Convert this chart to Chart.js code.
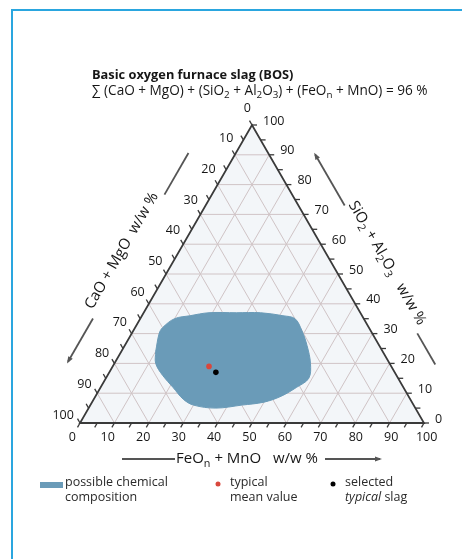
<!DOCTYPE html>
<html>
<head>
<meta charset="utf-8">
<script src="https://cdn.jsdelivr.net/npm/chart.js@4.4.1/dist/chart.umd.min.js"></script>
<style>
  html, body { margin: 0; padding: 0; background: #fff; }
  canvas { display: block; }
</style>
</head>
<body>
<canvas id="c" width="462" height="559"></canvas>
<script>
// Ternary diagram of BOS slag, all values in w/w %
// components: CaO + MgO (left corner), SiO2 + Al2O3 (top corner), FeOn + MnO (right corner)
const tickValues = [0, 10, 20, 30, 40, 50, 60, 70, 80, 90, 100];

// outline of the possible chemical composition range
const rangeCaO  = [66, 62, 60, 55, 50, 44, 36, 29, 23, 20, 20, 21, 23, 26, 31, 37, 43, 50, 58, 64, 66, 67, 68, 68];
const rangeSiO2 = [24, 30, 32, 35, 36, 37, 37, 37, 36, 35, 31, 26, 20, 15, 12,  9,  7,  6,  5,  6,  8, 12, 16, 20];
const rangeFeO  = [10,  8,  8, 10, 14, 19, 27, 34, 41, 45, 49, 53, 57, 59, 57, 54, 50, 44, 37, 30, 26, 21, 16, 12];

// typical mean value and the selected typical slag
const meanCaO = [53], meanSiO2 = [19], meanFeO = [28];
const selCaO  = [52], selSiO2  = [17], selFeO  = [31];

const H = Math.sqrt(3) / 2 * 100;
const FONT = '"Open Sans", "Noto Sans", sans-serif';
const TEXT = '#161616';
const BLOB = '#6a9bb8';
const RED = '#d9473c';

// barycentric -> cartesian (x: 0..100, y: 0..H)
function tern(c, s, f) {
  const t = c + s + f;
  s /= t; f /= t;
  return { x: (f + s / 2) * 100, y: s * H };
}
function series(cs, ss, fs) {
  return cs.map((c, i) => tern(c, ss[i], fs[i]));
}
const rangePts = series(rangeCaO, rangeSiO2, rangeFeO);
rangePts.push(rangePts[0]);

function pix(chart, c, s, f) {
  const p = tern(c, s, f);
  return { x: chart.scales.x.getPixelForValue(p.x), y: chart.scales.y.getPixelForValue(p.y) };
}

// text with subscript / italic runs
function fontFor(kind, size, weight) {
  const sz = kind === 'sub' ? size * 0.72 : size;
  const st = kind === 'it' ? 'italic ' : '';
  return st + (weight || 'normal') + ' ' + sz + 'px ' + FONT;
}
function richWidth(ctx, parts, size, weight) {
  let w = 0;
  for (const [t, k] of parts) {
    ctx.font = fontFor(k, size, weight);
    w += ctx.measureText(t).width;
  }
  return w;
}
function drawRich(ctx, parts, x, y, size, align, weight) {
  const w = richWidth(ctx, parts, size, weight);
  let cx = align === 'center' ? x - w / 2 : (align === 'right' ? x - w : x);
  ctx.textAlign = 'left';
  ctx.textBaseline = 'middle';
  for (const [t, k] of parts) {
    ctx.font = fontFor(k, size, weight);
    ctx.fillText(t, cx, k === 'sub' ? y + size * 0.32 : y);
    cx += ctx.measureText(t).width;
  }
}

function line(ctx, a, b) {
  ctx.beginPath(); ctx.moveTo(a.x, a.y); ctx.lineTo(b.x, b.y); ctx.stroke();
}
function arrow(ctx, a, b, head) {
  line(ctx, a, b);
  if (!head) return;
  const dx = b.x - a.x, dy = b.y - a.y, l = Math.hypot(dx, dy);
  const ux = dx / l, uy = dy / l;
  ctx.beginPath();
  ctx.moveTo(b.x + ux * 2, b.y + uy * 2);
  ctx.lineTo(b.x - ux * 5 - uy * 2.6, b.y - uy * 5 + ux * 2.6);
  ctx.lineTo(b.x - ux * 5 + uy * 2.6, b.y - uy * 5 - ux * 2.6);
  ctx.closePath();
  ctx.fill();
}

const ternaryFrame = {
  id: 'ternaryFrame',
  beforeDatasetsDraw(chart) {
    const ctx = chart.ctx;
    const A = pix(chart, 100, 0, 0), B = pix(chart, 0, 0, 100), T = pix(chart, 0, 100, 0);
    ctx.save();
    ctx.fillStyle = '#f3f6f9';
    ctx.beginPath(); ctx.moveTo(A.x, A.y); ctx.lineTo(B.x, B.y); ctx.lineTo(T.x, T.y); ctx.closePath(); ctx.fill();
    ctx.strokeStyle = '#d0c4c6';
    ctx.lineWidth = 1;
    for (const v of tickValues) {
      if (v === 0 || v === 100) continue;
      line(ctx, pix(chart, 100 - v, v, 0), pix(chart, 0, v, 100 - v));   // constant SiO2
      line(ctx, pix(chart, 100 - v, 0, v), pix(chart, 0, 100 - v, v));   // constant FeO
      line(ctx, pix(chart, v, 100 - v, 0), pix(chart, v, 0, 100 - v));   // constant CaO
    }
    ctx.restore();
  },
  afterDatasetsDraw(chart) {
    const ctx = chart.ctx;
    const A = pix(chart, 100, 0, 0), B = pix(chart, 0, 0, 100), T = pix(chart, 0, 100, 0);
    const G = { x: (A.x + B.x + T.x) / 3, y: (A.y + B.y + T.y) / 3 };
    // tick labels on the left and bottom sit on a slightly wider ring
    const ring = (p, k) => ({ x: G.x + (p.x - G.x) * k, y: G.y + (p.y - G.y) * k });
    ctx.save();
    // triangle edges
    ctx.strokeStyle = '#3a3a3a';
    ctx.lineWidth = 1.8;
    ctx.beginPath(); ctx.moveTo(A.x, A.y); ctx.lineTo(B.x, B.y); ctx.lineTo(T.x, T.y); ctx.closePath(); ctx.stroke();

    // ticks every 5 %
    ctx.lineWidth = 1.3;
    const L = 5, c60 = 0.5, s60 = Math.sqrt(3) / 2;
    for (let v = 0; v <= 100; v += 5) {
      const pb = pix(chart, 100 - v, 0, v);
      line(ctx, pb, { x: pb.x - L * c60, y: pb.y + L * s60 });
      const pl = pix(chart, v, 100 - v, 0);
      line(ctx, pl, { x: pl.x - L * c60, y: pl.y - L * s60 });
      const pr = pix(chart, 0, v, 100 - v);
      line(ctx, pr, { x: pr.x + L, y: pr.y });
    }

    // tick labels
    ctx.fillStyle = TEXT;
    ctx.font = '12.5px ' + FONT;
    ctx.textBaseline = 'middle';
    for (const v of tickValues) {
      const pb = ring(pix(chart, 100 - v, 0, v), 1.03);
      ctx.textAlign = 'center';
      ctx.fillText(String(v), pb.x - 2.5, A.y + 14);
      const pl = ring(pix(chart, v, 100 - v, 0), 1.03);
      ctx.textAlign = 'right';
      ctx.fillText(String(v), pl.x - 1, pl.y - 11);
      const pr = pix(chart, 0, v, 100 - v);
      ctx.textAlign = 'left';
      ctx.fillText(String(v), pr.x + 11, pr.y - 4);
    }

    // axis titles with direction arrows
    ctx.strokeStyle = '#555';
    ctx.fillStyle = '#555';
    ctx.lineWidth = 1.8;
    const side = (P0, P1, nx, ny) => {
      const dx = P1.x - P0.x, dy = P1.y - P0.y, l = Math.hypot(dx, dy);
      const ux = dx / l, uy = dy / l;
      return (a, b) => ({ x: P0.x + ux * a + nx * b, y: P0.y + uy * a + ny * b });
    };
    const left = side(A, T, -s60, -c60);
    arrow(ctx, left(240, 41), left(288, 41), false);
    arrow(ctx, left(97, 41), left(47, 41), true);
    const right = side(B, T, s60, -c60);
    arrow(ctx, right(228, 40), right(287, 40), true);
    arrow(ctx, right(45, 39), right(81, 39), false);
    arrow(ctx, { x: A.x + 42, y: A.y + 36 }, { x: A.x + 95, y: A.y + 36 }, false);
    arrow(ctx, { x: B.x - 99, y: B.y + 36 }, { x: B.x - 44, y: B.y + 36 }, true);

    ctx.fillStyle = TEXT;
    const lc = left(170, 50);
    ctx.save();
    ctx.translate(lc.x, lc.y);
    ctx.rotate(-Math.PI / 3);
    drawRich(ctx, [['CaO + MgO  w/w %', '']], 0, 0, 15, 'center');
    ctx.restore();

    const rc = right(157, 48);
    ctx.save();
    ctx.translate(rc.x, rc.y);
    ctx.rotate(Math.PI / 3);
    drawRich(ctx, [['SiO', ''], ['2', 'sub'], [' + Al', ''], ['2', 'sub'], ['O', ''], ['3', 'sub'], ['   w/w %', '']], 0, 0, 15, 'center');
    ctx.restore();

    drawRich(ctx, [['FeO', ''], ['n', 'sub'], [' + MnO   w/w %', '']], (A.x + B.x) / 2 - 5, A.y + 36, 15, 'center');
    ctx.restore();
  },
  afterDraw(chart) {
    const ctx = chart.ctx;
    ctx.save();
    // frame
    ctx.strokeStyle = '#2aa6df';
    ctx.lineWidth = 2;
    ctx.beginPath();
    ctx.moveTo(12, 600); ctx.lineTo(12, 10); ctx.lineTo(470, 10);
    ctx.stroke();

    // heading
    ctx.fillStyle = TEXT;
    drawRich(ctx, [['Basic oxygen furnace slag (BOS)', '']], 92, 75, 12.8, 'left', 'bold');
    drawRich(ctx, [['\u2211 (CaO + MgO) + (SiO', ''], ['2', 'sub'], [' + Al', ''], ['2', 'sub'], ['O', ''], ['3', 'sub'],
                   [') + (FeO', ''], ['n', 'sub'], [' + MnO) = 96 %', '']], 92, 91, 13.6, 'left');

    // key
    const ds = chart.data.datasets;
    ctx.fillStyle = ds[0].backgroundColor;
    ctx.fillRect(40, 482, 23, 6);
    ctx.fillStyle = ds[1].backgroundColor;
    ctx.beginPath(); ctx.arc(218, 484, 2.5, 0, Math.PI * 2); ctx.fill();
    ctx.fillStyle = ds[2].backgroundColor;
    ctx.beginPath(); ctx.arc(333, 484, 2.5, 0, Math.PI * 2); ctx.fill();

    ctx.fillStyle = '#2a2a2a';
    drawRich(ctx, [['possible chemical', '']], 65, 482, 12.5, 'left');
    drawRich(ctx, [['composition', '']], 65, 497, 12.5, 'left');
    drawRich(ctx, [['typical', '']], 230, 482, 12.5, 'left');
    drawRich(ctx, [['mean value', '']], 230, 497, 12.5, 'left');
    drawRich(ctx, [['selected', '']], 345, 482, 12.5, 'left');
    drawRich(ctx, [['typical', 'it'], [' slag', '']], 345, 497, 12.5, 'left');
    ctx.restore();
  }
};

new Chart(document.getElementById('c'), {
  type: 'scatter',
  data: {
    datasets: [
      {
        label: 'possible chemical composition',
        data: rangePts,
        order: 3,
        showLine: true,
        fill: 'shape',
        tension: 0.35,
        backgroundColor: BLOB,
        borderColor: BLOB,
        borderWidth: 1,
        pointRadius: 0
      },
      {
        label: 'typical mean value',
        data: series(meanCaO, meanSiO2, meanFeO),
        order: 1,
        backgroundColor: RED,
        borderWidth: 0,
        pointRadius: 2.8
      },
      {
        label: 'selected typical slag',
        data: series(selCaO, selSiO2, selFeO),
        order: 0,
        backgroundColor: '#000',
        borderWidth: 0,
        pointRadius: 2.8
      }
    ]
  },
  options: {
    responsive: false,
    animation: false,
    devicePixelRatio: 1,
    events: [],
    layout: { padding: { left: 80, right: 38, top: 125, bottom: 136 } },
    scales: {
      x: { type: 'linear', min: 0, max: 100, display: false },
      y: { type: 'linear', min: 0, max: H, display: false }
    },
    plugins: {
      legend: { display: false },
      tooltip: { enabled: false },
      title: { display: false }
    }
  },
  plugins: [ternaryFrame]
});
</script>
</body>
</html>
